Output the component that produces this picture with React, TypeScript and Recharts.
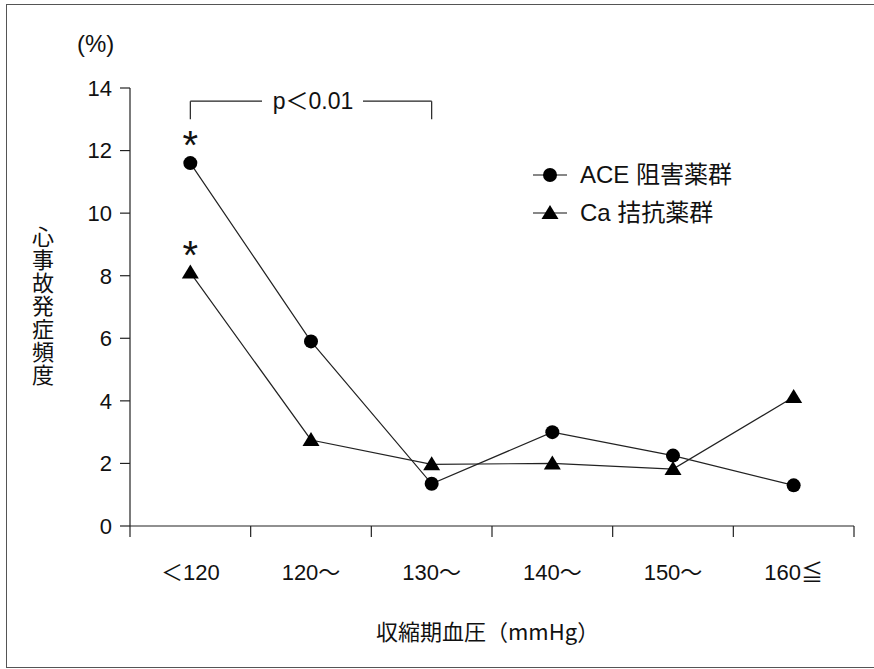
import React from "react";
import { LineChart, Line, XAxis, YAxis, Legend, ReferenceLine, ReferenceDot } from "recharts";

const categories = ["＜120", "120～", "130～", "140～", "150～", "160≦"];
const aceValues = [11.6, 5.9, 1.35, 3.0, 2.25, 1.3];
const caValues = [8.1, 2.75, 1.97, 2.0, 1.82, 4.12];
const yTicks = [0, 2, 4, 6, 8, 10, 12, 14];
const seriesNames = ["ACE 阻害薬群", "Ca 拮抗薬群"];

const FONT = "'Liberation Sans', Arial, 'Noto Sans CJK JP', sans-serif";

const data = categories.map((c, i) => ({ name: c, ace: aceValues[i], ca: caValues[i] }));

const Triangle = ({ cx, cy }: any) => (
  <path d={`M${cx},${cy - 8} L${cx + 8.5},${cy + 6} L${cx - 8.5},${cy + 6} Z`} fill="#000" />
);

const CircleDot = ({ cx, cy }: any) => <circle cx={cx} cy={cy} r={7} fill="#000" />;

const XTick = (props: any) => {
  const { x, y, payload, index } = props;
  const off = payload.offset ?? 0;
  return (
    <g>
      <line x1={x - off} y1={y} x2={x - off} y2={y + 11} stroke="#222" strokeWidth={1.2} />
      {index === categories.length - 1 && (
        <line x1={x + off} y1={y} x2={x + off} y2={y + 11} stroke="#222" strokeWidth={1.2} />
      )}
      <text x={x} y={y + 54} textAnchor="middle" fontSize={22} fill="#111" fontFamily={FONT}>
        {payload.value}
      </text>
    </g>
  );
};

const renderLegend = () => (
  <svg width={240} height={80}>
    {seriesNames.map((n, i) => {
      const cy = 15 + i * 38;
      return (
        <g key={n}>
          <line x1={0} y1={cy} x2={34} y2={cy} stroke="#111" strokeWidth={1.2} />
          {i === 0 ? <CircleDot cx={17} cy={cy} /> : <Triangle cx={17} cy={cy} />}
          <text x={47} y={cy + 8} fontSize={24} fill="#111" fontFamily={FONT}>
            {n}
          </text>
        </g>
      );
    })}
  </svg>
);

const PLabel = ({ cx, cy }: any) => (
  <g>
    <rect x={cx - 49} y={cy - 12} width={101} height={24} fill="#fff" />
    <text x={cx + 2} y={cy + 8} textAnchor="middle" fontSize={23} fill="#111" fontFamily={FONT}>
      p＜0.01
    </text>
  </g>
);

const Star = ({ cx, cy }: any) => (
  <text x={cx} y={cy + 22} textAnchor="middle" fontSize={40} fill="#111" fontFamily={FONT}>
    *
  </text>
);

export default function App() {
  return (
    <div style={{ position: "absolute", left: 0, top: 0, width: 874, height: 669, background: "#fff", fontFamily: FONT }}>
      <div
        style={{
          position: "absolute",
          left: 6,
          top: 4,
          width: 880,
          height: 662,
          borderLeft: "1.5px solid #555",
          borderTop: "1.5px solid #555",
          borderBottom: "1.5px solid #555",
        }}
      />
      <div style={{ position: "absolute", left: 77, top: 30, fontSize: 24, color: "#111" }}>(%)</div>
      <div
        style={{
          position: "absolute",
          left: 32,
          top: 226,
          fontSize: 22,
          lineHeight: "22px",
          writingMode: "vertical-rl",
          letterSpacing: 1,
          color: "#111",
          fontFamily: "'Noto Sans CJK JP', sans-serif",
        }}
      >
        心事故発症頻度
      </div>
      <div
        style={{
          position: "absolute",
          left: 376,
          top: 614,
          fontSize: 22,
          color: "#111",
          fontFamily: "'Noto Sans CJK JP', sans-serif",
          whiteSpace: "nowrap",
        }}
      >
        収縮期血圧（mmHg）
      </div>
      <LineChart
        width={874}
        height={669}
        data={data}
        margin={{ top: 88, right: 20, left: 0, bottom: 83 }}
        style={{ position: "absolute", left: 0, top: 0 }}
      >
        <XAxis
          dataKey="name"
          scale="band"
          height={60}
          tickSize={0}
          tickMargin={0}
          tickLine={false}
          axisLine={{ stroke: "#222", strokeWidth: 1.2 }}
          tick={<XTick />}
          interval={0}
        />
        <YAxis
          width={130}
          domain={[0, 14]}
          ticks={yTicks}
          tickSize={10}
          tickMargin={8}
          axisLine={{ stroke: "#222", strokeWidth: 1.2 }}
          tickLine={{ stroke: "#222", strokeWidth: 1.2 }}
          tick={{ fontSize: 22, fill: "#111", fontFamily: FONT }}
        />
        <Legend
          layout="horizontal"
          verticalAlign="middle"
          align="center"
          content={renderLegend}
          wrapperStyle={{ left: 533, top: 160, width: 240 }}
        />
        <ReferenceLine segment={[{ x: "＜120", y: 13.0 }, { x: "＜120", y: 13.58 }]} stroke="#222" strokeWidth={1.2} />
        <ReferenceLine segment={[{ x: "＜120", y: 13.58 }, { x: "130～", y: 13.58 }]} stroke="#222" strokeWidth={1.2} />
        <ReferenceLine segment={[{ x: "130～", y: 13.58 }, { x: "130～", y: 13.0 }]} stroke="#222" strokeWidth={1.2} />
        <ReferenceDot x="120～" y={13.58} shape={<PLabel />} />
        <ReferenceDot x="＜120" y={12.43} shape={<Star />} />
        <ReferenceDot x="＜120" y={8.92} shape={<Star />} />
        <Line
          dataKey="ace"
          name={seriesNames[0]}
          stroke="#222"
          strokeWidth={1.2}
          dot={<CircleDot />}
          activeDot={false}
          isAnimationActive={false}
        />
        <Line
          dataKey="ca"
          name={seriesNames[1]}
          stroke="#222"
          strokeWidth={1.2}
          dot={<Triangle />}
          activeDot={false}
          isAnimationActive={false}
        />
      </LineChart>
    </div>
  );
}
